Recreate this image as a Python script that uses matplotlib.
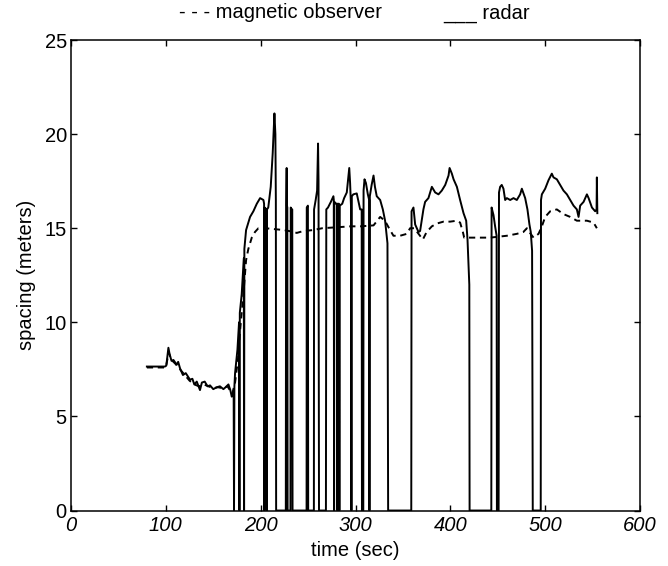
import matplotlib
matplotlib.use("Agg")
import matplotlib.pyplot as plt

# ---------------- data ----------------
radar_t = [80, 99, 100.5, 102.7, 104, 106, 108, 111.5, 113, 115, 118, 121, 125.5, 128, 130,
           132.6, 136, 138, 141, 144, 146.6, 150, 153.7, 157, 160.7, 163, 166, 168, 169.5,
           171.5, 171.9, 172.3, 173, 175.5, 177.2, 177.6, 178.0, 180, 181.8, 182.2, 182.5,
           182.8, 184.6, 188.8, 192.3, 195.9, 199.4, 202.9, 203.6, 203.9, 204.2, 206.1, 206.4,
           206.7, 208, 210.6, 212.7, 214.5, 215.5, 216.0, 216.3,
           226.5, 226.8, 227.4, 227.7, 228.1, 228.4, 231.4, 231.7, 232.5, 233.3, 233.6,
           248.4, 248.6, 249.8, 250.1, 256.1, 256.3, 258, 259.5, 260.5, 261.0, 261.5,
           268.8, 269.2, 271, 274, 276.7, 277.1, 277.4, 277.7, 279.5, 280.6, 280.9, 281.2,
           282.6, 283.0, 283.4, 286, 288, 290.8, 292, 293.4, 294.3, 295.3, 295.7, 296.1,
           297.7, 301.3, 304.9, 306.5, 306.8, 308.2, 308.5, 309.5, 311, 313, 314.4, 314.7,
           315.1, 317, 319, 320.5, 322.4, 326, 328.8, 331.2, 333.7, 334.4,
           358.8, 359.1, 361.1, 362.9, 366.4, 368.1, 371.6, 373.4, 376.9, 380.5, 384, 387.5,
           391, 394.6, 398.1, 399.2, 401.6, 403.4, 406.9, 410.3, 413.9, 416.7, 418.1, 419.2,
           420.0, 420.3,
           443.2, 443.5, 445.5, 447.2, 448.8, 449.1, 450.9, 451.3, 452.5, 454.2, 456, 457.8,
           459.6, 463.1, 466.6, 470.1, 473.6, 475.4, 478.9, 481.3, 483.4, 484.8, 486.2, 486.9,
           495.3, 495.6, 496.5, 500, 503.5, 507, 508.8, 512.3, 515.8, 519.3, 522.9, 526.4,
           529.9, 533.4, 535.2, 536.9, 540.5, 544, 545.8, 549.3, 552.7, 554.2, 554.5, 555.0]
radar_v = [7.65, 7.65, 7.7, 8.65, 8.3, 7.95, 8.0, 7.75, 7.9, 7.55, 7.2, 7.3, 6.95, 7.0, 6.7,
           6.85, 6.4, 6.8, 6.85, 6.6, 6.65, 6.45, 6.55, 6.6, 6.45, 6.55, 6.7, 6.4, 6.05,
           6.3, 0, 6.6, 7.3, 8.55, 10.0, 0, 10.5, 11.5, 13.1, 13.4, 0,
           13.9, 14.9, 15.6, 15.9, 16.3, 16.6, 16.5, 16.3, 0, 16.1, 16.0, 0,
           16.0, 16.1, 17.2, 19.0, 21.1, 20.0, 16.5, 0,
           0, 16.2, 18.2, 16.2, 16.1, 0, 0, 16.1, 16.0, 16.0, 0,
           0, 16.1, 16.2, 0, 0, 16.0, 16.5, 17.0, 19.5, 17.5, 0,
           0, 16.0, 16.1, 16.4, 16.7, 16.5, 0, 16.4, 16.3, 16.3, 0, 16.3,
           16.3, 0, 16.2, 16.3, 16.6, 16.9, 17.5, 18.2, 17.4, 16.1, 0, 16.7,
           16.8, 16.85, 16.0, 16.0, 0, 0, 17.0, 17.6, 17.4, 16.8, 16.5, 0,
           16.7, 17.3, 17.8, 17.2, 16.7, 16.5, 16.0, 15.4, 14.2, 0,
           0, 15.9, 16.1, 15.2, 14.8, 14.85, 16.0, 16.4, 16.6, 17.2, 16.9, 16.8,
           17.0, 17.3, 17.8, 18.2, 17.9, 17.6, 17.2, 16.5, 15.8, 15.4, 14.4, 13.0,
           12.0, 0,
           0, 16.1, 15.7, 15.1, 14.6, 0, 0, 16.9, 17.2, 17.3, 17.1, 16.5,
           16.6, 16.5, 16.6, 16.5, 16.8, 17.1, 16.6, 16.0, 15.2, 14.8, 13.8, 0,
           0, 16.5, 16.8, 17.1, 17.55, 17.9, 17.7, 17.6, 17.3, 17.0, 16.8, 16.5,
           16.2, 16.0, 15.6, 16.2, 16.4, 16.8, 16.6, 16.1, 15.9, 16.0, 17.7, 15.8]

magnetic_t = [80, 100, 103, 106, 110, 115, 120, 125, 130, 135, 140, 145, 150, 155, 160, 165,
              170, 173, 176, 178, 181.8, 184.6, 187, 190.6, 194, 197.6, 205, 215, 225, 235,
              238, 245, 255, 265, 280, 295, 305, 319, 326, 331, 336.5, 340, 347, 354, 357.6,
              362, 368, 371, 375, 380.5, 385.8, 392.8, 399.8, 406.9, 410.3, 413.2, 414.6,
              420.9, 442, 459.6, 470, 477, 480.7, 484, 487.7, 493, 496.5, 500, 505.3, 512.3,
              519.3, 526.4, 533.4, 544, 551, 554.5]
magnetic_v = [7.6, 7.6, 8.4, 8.0, 7.8, 7.5, 7.2, 6.9, 6.7, 6.6, 6.7, 6.6, 6.5, 6.55, 6.5, 6.6,
              6.2, 6.8, 8.0, 9.4, 11.5, 13.3, 13.9, 14.5, 14.8, 15.0, 15.0, 14.95, 14.9, 14.8,
              14.75, 14.85, 14.9, 15.0, 15.05, 15.1, 15.1, 15.15, 15.6, 15.4, 14.9, 14.6, 14.6,
              14.7, 15.0, 15.0, 14.6, 14.4, 14.8, 15.1, 15.25, 15.35, 15.35, 15.4, 15.3, 14.8,
              14.5, 14.5, 14.5, 14.6, 14.7, 14.8, 15.0, 14.75, 14.5, 14.7, 15.1, 15.6, 15.9,
              16.0, 15.75, 15.6, 15.4, 15.4, 15.3, 15.0]

x_ticks = [0, 100, 200, 300, 400, 500, 600]
y_ticks = [0, 5, 10, 15, 20, 25]

# ---------------- figure ----------------
plt.rcParams['font.family'] = ['Liberation Sans', 'DejaVu Sans']
FS = 14.5
fig = plt.figure(figsize=(6.68, 5.66), dpi=100)
ax = fig.add_axes([0.1063, 0.098, 0.8518, 0.8313])

ax.plot(magnetic_t, magnetic_v, color='black', lw=1.4, linestyle=(0, (3.2, 2.4)))
ax.plot(radar_t, radar_v, color='black', lw=1.4)

ax.set_xlim(0, 600)
ax.set_ylim(0, 25)
ax.set_xticks(x_ticks)
ax.set_yticks(y_ticks)
ax.set_xticklabels([str(t) for t in x_ticks], fontstyle='italic')
ax.tick_params(direction='in', length=4.5, width=1.0, top=True, right=True,
               labelsize=FS, pad=3)
ax.tick_params(axis='x', pad=4)
for s in ax.spines.values():
    s.set_linewidth(1.1)

ax.set_xlabel('time (sec)', fontsize=FS, labelpad=4)
ax.set_ylabel('spacing (meters)', fontsize=FS, labelpad=6)

fig.text(179 / 668, 1 - 13 / 566, '- - - magnetic observer', fontsize=FS,
         ha='left', va='center')
fig.text(443 / 668, 1 - 13 / 566, '___ radar', fontsize=FS, ha='left', va='center')

fig.savefig('out.png', dpi=100)
